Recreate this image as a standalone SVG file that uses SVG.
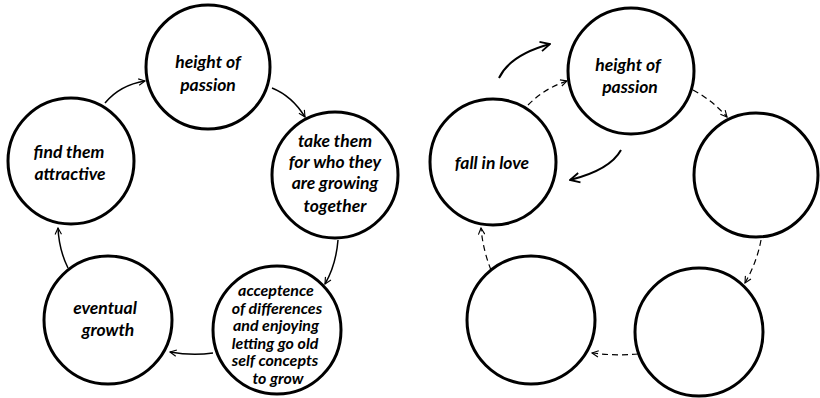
<svg xmlns="http://www.w3.org/2000/svg" width="820" height="398" viewBox="0 0 820 398">
<style>
.n{fill:#fff;stroke:#000;stroke-width:3}
.t{font-family:Lato,"Open Sans","DejaVu Sans",sans-serif;font-style:italic;font-weight:bold;font-size:17.5px;fill:#000;text-anchor:middle}
.s{font-size:16px}
.c{fill:none;stroke:#000;stroke-width:1.5}
.d{fill:none;stroke:#000;stroke-width:1.2;stroke-dasharray:6 4}
.b{fill:none;stroke:#000;stroke-width:2}
</style>
<defs>
<marker id="a" viewBox="0 0 10 10" refX="9" refY="5" markerWidth="8" markerHeight="8" markerUnits="userSpaceOnUse" orient="auto"><path d="M1,1 L9,5 L1,9" fill="none" stroke="#000" stroke-width="1.4"/></marker>
<marker id="ab" viewBox="0 0 10 10" refX="9" refY="5" markerWidth="12" markerHeight="12" markerUnits="userSpaceOnUse" orient="auto"><path d="M1,1 L9,5 L1,9" fill="none" stroke="#000" stroke-width="1.5"/></marker>
</defs>
<g id="connectors">
<path class="c" d="M105,103 Q120,85 145,81" marker-end="url(#a)"/>
<path class="c" d="M272,88 Q292,96 305,117" marker-end="url(#a)"/>
<path class="c" d="M338,240 Q336,265 325,284" marker-end="url(#a)"/>
<path class="c" d="M213,353 Q192,356 170,352" marker-end="url(#a)"/>
<path class="c" d="M68,268 Q59,250 58,228" marker-end="url(#a)"/>
<path class="d" d="M528,105 Q545,88 567,81" marker-end="url(#a)"/>
<path class="d" d="M693,90 Q712,100 727,117" marker-end="url(#a)"/>
<path class="d" d="M761,240 Q757,262 745,283" marker-end="url(#a)"/>
<path class="d" d="M638,354 Q615,356 592,353" marker-end="url(#a)"/>
<path class="d" d="M491,270 Q483,250 481,228" marker-end="url(#a)"/>
<path class="b" d="M499,78 Q510,55 550,44" marker-end="url(#ab)"/>
<path class="b" d="M621,150 Q610,170 570,180" marker-end="url(#ab)"/>
</g>
<g id="n-height-left"><circle class="n" cx="208" cy="67" r="62"/><text class="t" x="208" y="68">height of</text><text class="t" x="208" y="91">passion</text></g>
<g id="n-find"><circle class="n" cx="71" cy="161" r="63"/><text class="t" x="69" y="158">find them</text><text class="t" x="70" y="180">attractive</text></g>
<g id="n-take"><circle class="n" cx="335" cy="175" r="63"/><text class="t" x="335" y="147">take them</text><text class="t" x="335" y="168">for who they</text><text class="t" x="335" y="189">are growing</text><text class="t" x="335" y="212">together</text></g>
<g id="n-accept"><circle class="n" cx="277" cy="330" r="64"/><text class="t s" x="276" y="296">acceptence</text><text class="t s" x="277" y="313.5">of differences</text><text class="t s" x="276" y="331">and enjoying</text><text class="t s" x="275" y="348.5">letting go old</text><text class="t s" x="275" y="366">self concepts</text><text class="t s" x="278" y="383.5">to grow</text></g>
<g id="n-eventual"><circle class="n" cx="108" cy="320" r="64"/><text class="t" x="105" y="314">eventual</text><text class="t" x="108" y="336">growth</text></g>
<g id="n-height-right"><circle class="n" cx="631" cy="71" r="63"/><text class="t" x="628" y="71">height of</text><text class="t" x="630" y="93">passion</text></g>
<g id="n-fall"><circle class="n" cx="493" cy="162" r="63"/><text class="t" x="492" y="169">fall in love</text></g>
<g id="n-right"><circle class="n" cx="756" cy="175" r="62"/></g>
<g id="n-bottom-right"><circle class="n" cx="699" cy="332" r="64"/></g>
<g id="n-bottom-left"><circle class="n" cx="531" cy="320" r="64"/></g>
</svg>
